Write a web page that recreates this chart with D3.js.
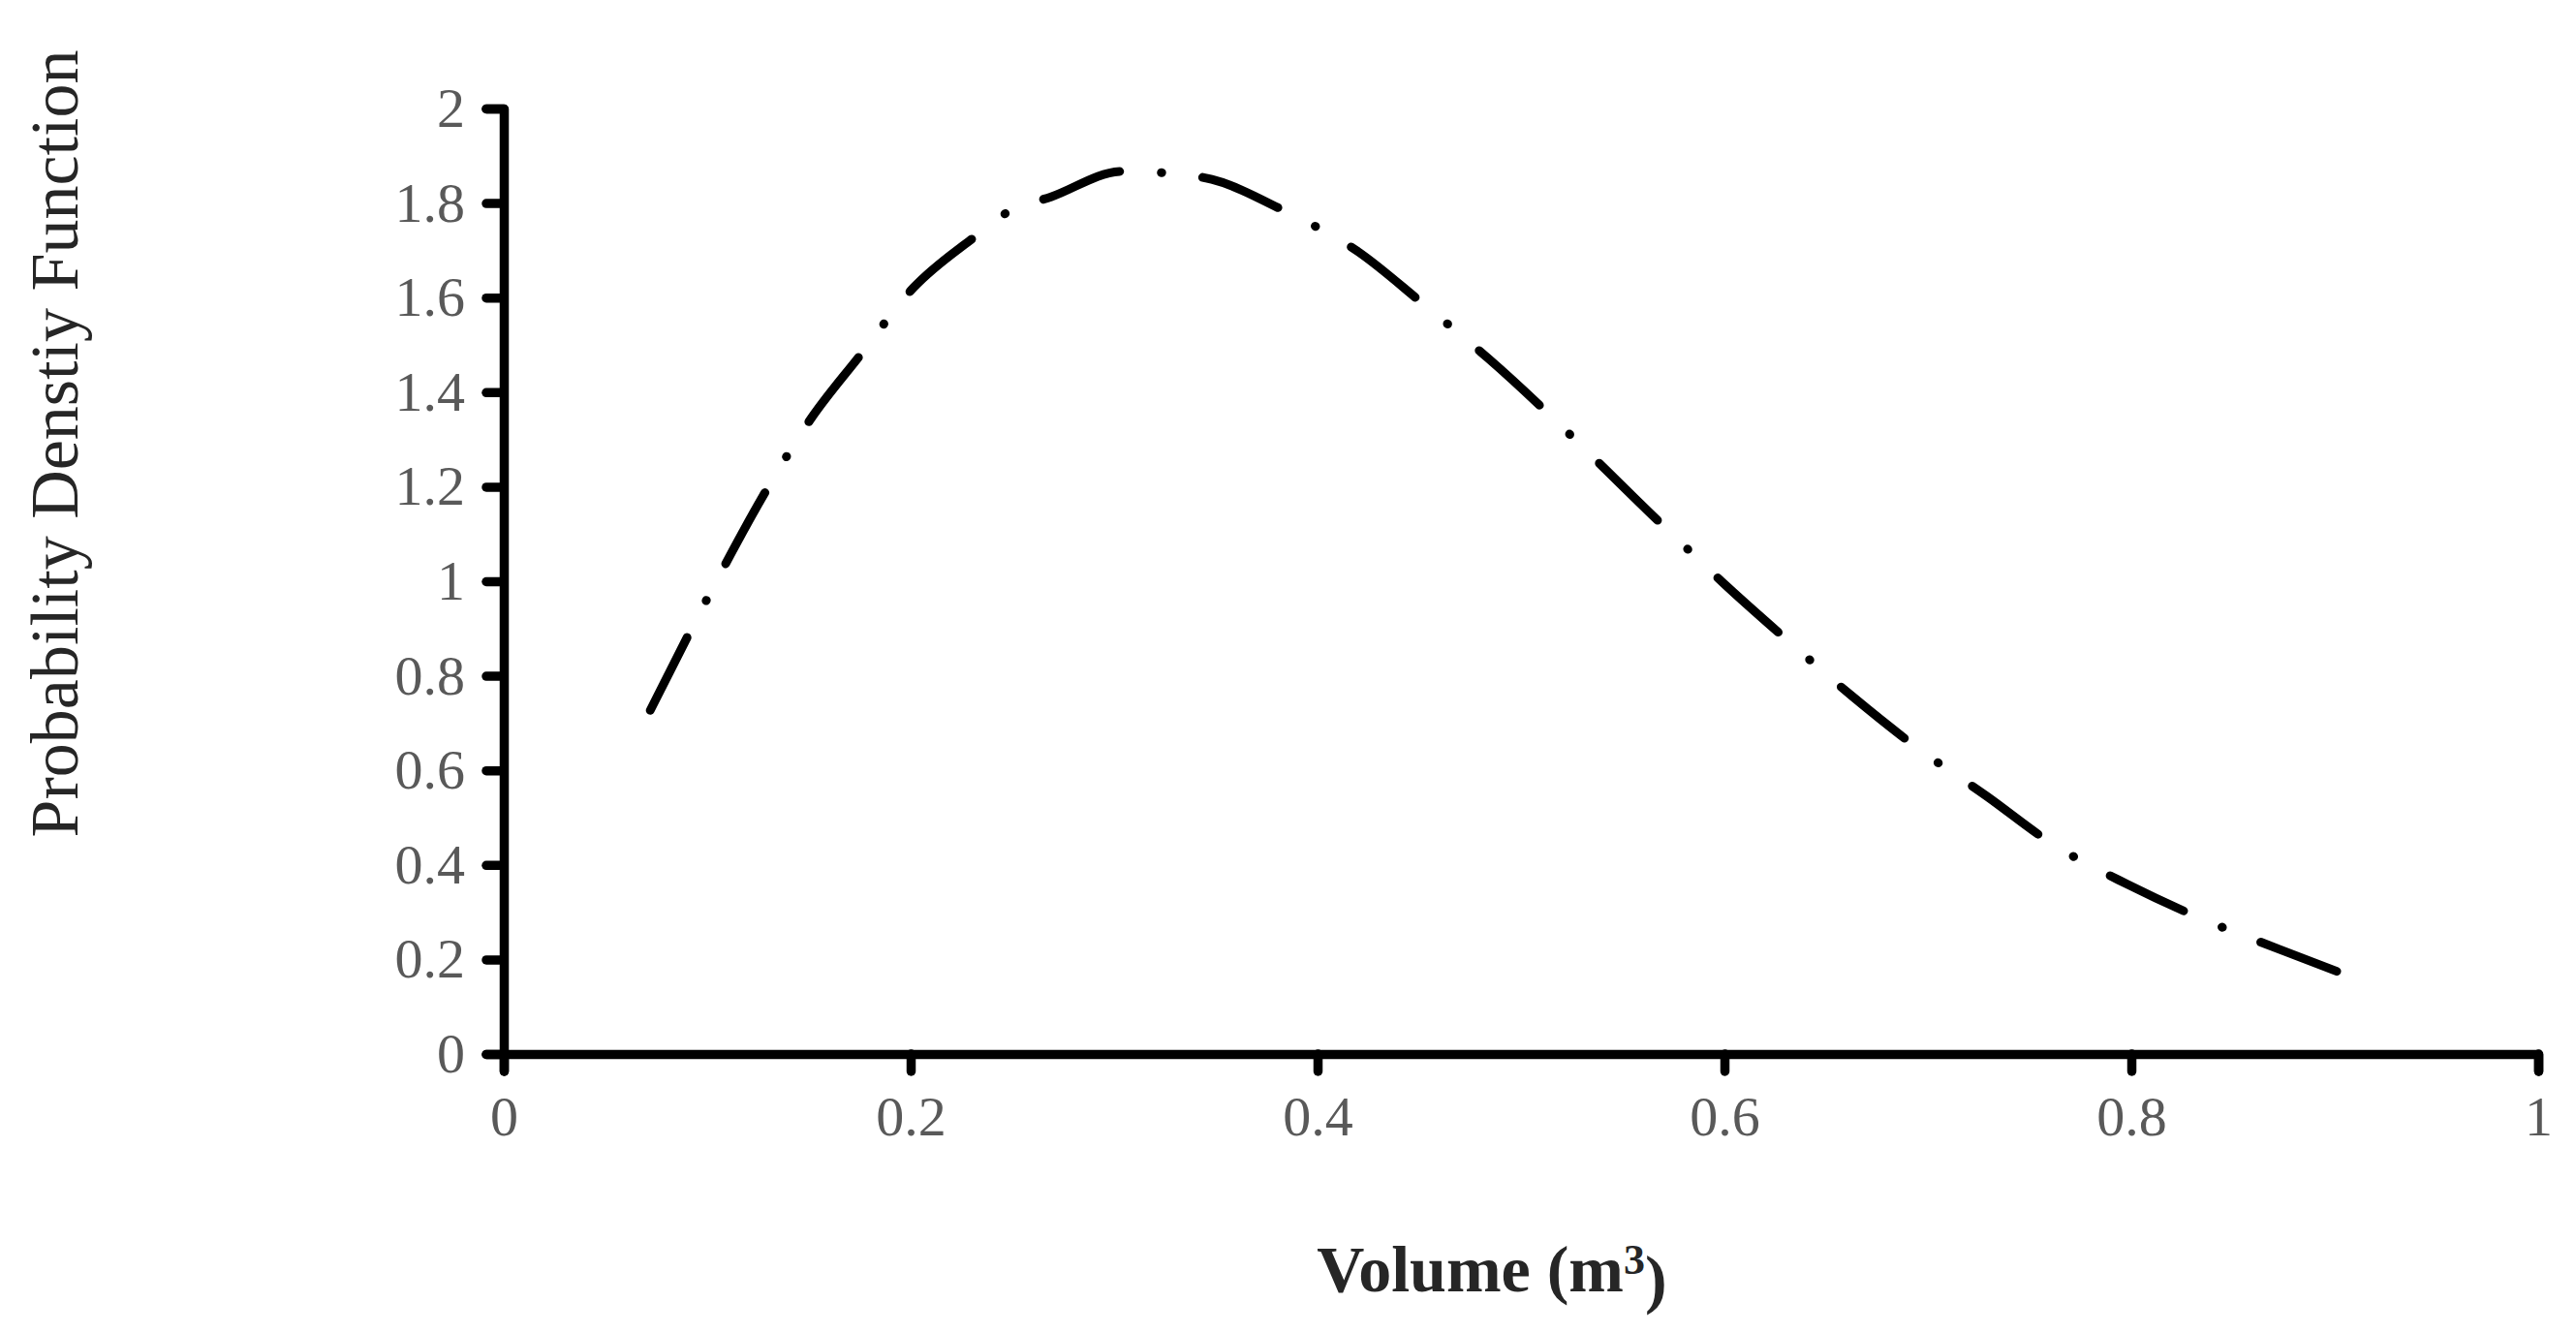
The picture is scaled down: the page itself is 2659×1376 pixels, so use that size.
<!DOCTYPE html>
<html>
<head>
<meta charset="utf-8">
<script src="https://cdn.jsdelivr.net/npm/d3@7"></script>
<style>
  html, body { margin: 0; padding: 0; background: #fff; }
  svg { display: block; }
</style>
</head>
<body>
<svg id="chart" width="2659" height="1376"></svg>
<script>
// ---- data ----
const volume = [0.072, 0.0995, 0.1286, 0.151, 0.175, 0.2014, 0.231, 0.2486, 0.269, 0.304, 0.327, 0.348, 0.383, 0.420, 0.451, 0.484, 0.571, 0.601, 0.631, 0.663, 0.694, 0.729, 0.761, 0.798, 0.833, 0.873, 0.904];
const pdf    = [0.727, 0.959, 1.189, 1.344, 1.477, 1.621, 1.727, 1.783, 1.813, 1.867, 1.863, 1.850, 1.785, 1.697, 1.590, 1.471, 1.113, 0.990, 0.875, 0.756, 0.650, 0.545, 0.445, 0.359, 0.289, 0.221, 0.170];
const xTicks = [0, 0.2, 0.4, 0.6, 0.8, 1];
const yTicks = [0, 0.2, 0.4, 0.6, 0.8, 1, 1.2, 1.4, 1.6, 1.8, 2];
const xTitle = "Volume (m";
const xTitleSup = "3";
const yTitle = "Probability Denstiy Function";

const svg = d3.select("#chart");
const x = d3.scaleLinear().domain([0, 1]).range([520, 2620]);
const y = d3.scaleLinear().domain([0, 2]).range([1088, 112]);

const serif = "'Liberation Serif', 'Times New Roman', serif";

// x axis
const gx = svg.append("g").attr("transform", `translate(0,${y(0)})`)
  .call(d3.axisBottom(x).tickValues(xTicks).tickFormat(d => String(d)).tickSize(18).tickSizeOuter(18).tickPadding(25));
// y axis
const gy = svg.append("g").attr("transform", `translate(${x(0)},0)`)
  .call(d3.axisLeft(y).tickValues(yTicks).tickFormat(d => String(d)).tickSize(18).tickSizeOuter(18).tickPadding(22));

[gx, gy].forEach(g => {
  g.select(".domain").attr("stroke", "#000").attr("stroke-width", 9.5)
    .attr("stroke-linejoin", "round").attr("stroke-linecap", "round");
  g.selectAll(".tick line").attr("stroke", "#000").attr("stroke-width", 9.5).attr("stroke-linecap", "round");
  g.selectAll(".tick text").attr("fill", "#595959")
    .style("font-family", serif).style("font-size", "58px");
});
gx.selectAll(".tick text").attr("dy", "0.71em");

// curve
const line = d3.line()
  .x((d, i) => x(volume[i]))
  .y((d, i) => y(pdf[i]))
  .curve(d3.curveMonotoneX);

svg.append("path")
  .datum(pdf)
  .attr("d", line)
  .attr("fill", "none")
  .attr("stroke", "#000")
  .attr("stroke-width", 9)
  .attr("stroke-linecap", "round")
  .attr("stroke-linejoin", "round")
  .attr("stroke-dasharray", "84 43 0.5 42.5");

// x title
const xt = svg.append("text")
  .attr("x", 1540).attr("y", 1333)
  .attr("text-anchor", "middle")
  .attr("fill", "#262626")
  .style("font-family", serif).style("font-size", "68px").style("font-weight", "bold");
xt.append("tspan").text(xTitle);
xt.append("tspan").attr("dy", "-0.4em").style("font-size", "44px").text(xTitleSup);
xt.append("tspan").attr("dy", "0.4em").text(")");

// y title
svg.append("text")
  .attr("transform", `translate(80,458) rotate(-90)`)
  .attr("text-anchor", "middle")
  .attr("fill", "#262626")
  .style("font-family", serif).style("font-size", "70px")
  .text(yTitle);
</script>
</body>
</html>
